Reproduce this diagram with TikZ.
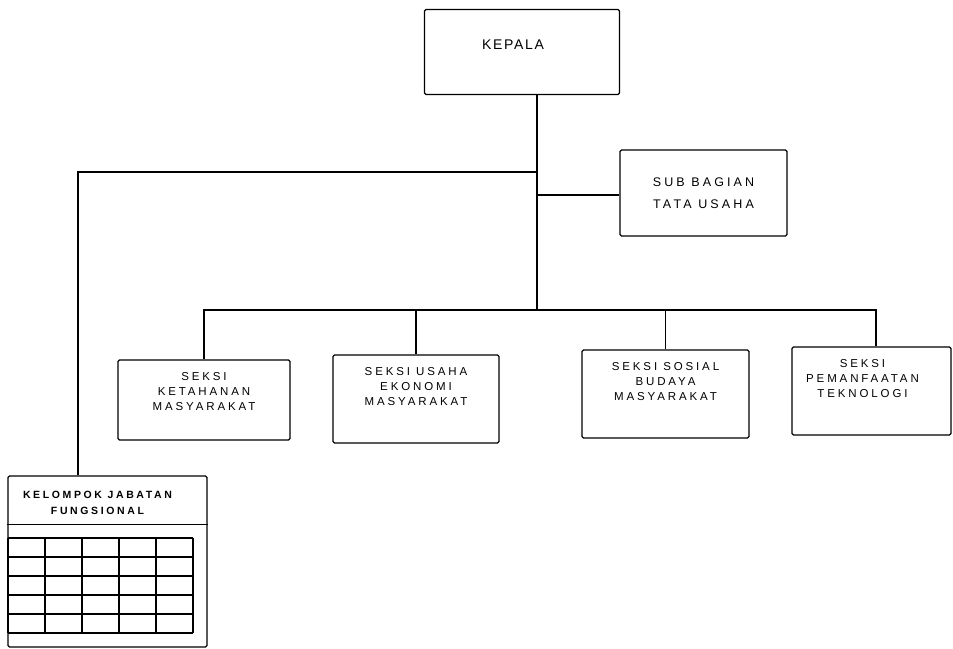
\documentclass[tikz,border=0pt]{standalone}
\usepackage{fontspec}
\setmainfont{Liberation Sans}
\newfontfamily\orgfont[LetterSpace=25]{Liberation Sans}
\newfontfamily\headfont[LetterSpace=12]{Liberation Sans}
\usetikzlibrary{positioning}
\tikzset{
  unit/.style={draw,line width=1.1pt,rounded corners=1.5pt,inner sep=0pt},
  unittext/.style={align=center,font=\orgfont\fontsize{11.5}{15}\selectfont},
  link/.style={line width=1.1pt},
}

\begin{document}
\begin{tikzpicture}[x=1pt,y=-1pt]
  \useasboundingbox (0,0) rectangle (953,648);
  % head and staff
  \node[unit,minimum width=195pt,minimum height=85pt] (kepala) at (522,52) {};
  \node[font=\headfont\fontsize{14}{16}\selectfont,xshift=-9pt,yshift=7pt] (kepalatxt) at (kepala.center) {KEPALA};
  \node[unit,minimum width=167pt,minimum height=86pt,align=center,font=\orgfont\fontsize{12.5}{22}\selectfont] (subbag) at (703.5,193) {SUB BAGIAN\\TATA USAHA};
  % sections
  \node[unit,minimum width=172pt,minimum height=80pt] (ketahanan) at (204,400) {};
  \node[unit,minimum width=166pt,minimum height=88pt] (usaha) at (416,399) {};
  \node[unit,minimum width=167pt,minimum height=88pt] (sosial) at (665.5,394) {};
  \node[unit,minimum width=159pt,minimum height=88pt] (teknologi) at (871.5,391) {};
  \node[unittext,below=9pt of ketahanan.north] (ketahanantxt) {SEKSI\\KETAHANAN\\MASYARAKAT};
  \node[unittext,below=9pt of usaha.north] (usahatxt) {SEKSI USAHA\\EKONOMI\\MASYARAKAT};
  \node[unittext,below=9pt of sosial.north] (sosialtxt) {SEKSI SOSIAL\\BUDAYA\\MASYARAKAT};
  \node[unittext,below=9pt of teknologi.north,xshift=-9pt] (teknologitxt) {SEKSI\\PEMANFAATAN\\TEKNOLOGI};
  % functional group
  \node[unit,minimum width=199pt,minimum height=171pt] (fungsional) at (107.5,561.5) {};
  \node[unittext,font=\orgfont\bfseries\fontsize{10.5}{16}\selectfont,below=12pt of fungsional.north,xshift=-10pt] (fungsionaltxt) {KELOMPOK JABATAN\\FUNGSIONAL};
  \draw[link] ([yshift=-49pt]fungsional.north west) -- ([yshift=-49pt]fungsional.north east);
  \foreach \i in {0,...,5} \draw[link] (8+37*\i,538) -- (8+37*\i,633);
  \foreach \j in {0,...,5} \draw[link] (8,538+19*\j) -- (193,538+19*\j);
  % connectors
  \coordinate (jfung) at (537,172);
  \coordinate (jsub) at (537,195);
  \coordinate (jseksi) at (537,310);
  \draw[link] (kepala.south -| jseksi) -- (jseksi);
  \draw[link] (jfung) -| ([xshift=-29.5pt]fungsional.north);
  \draw[link] (jsub) -- (subbag.west |- jsub);
  \draw[link] (ketahanan.north) |- ([xshift=4.5pt]teknologi.north |- jseksi) -- ([xshift=4.5pt]teknologi.north);
  \foreach \s in {usaha,sosial} \draw[link] (\s.north) -- (\s.north |- jseksi);
\end{tikzpicture}
\end{document}
